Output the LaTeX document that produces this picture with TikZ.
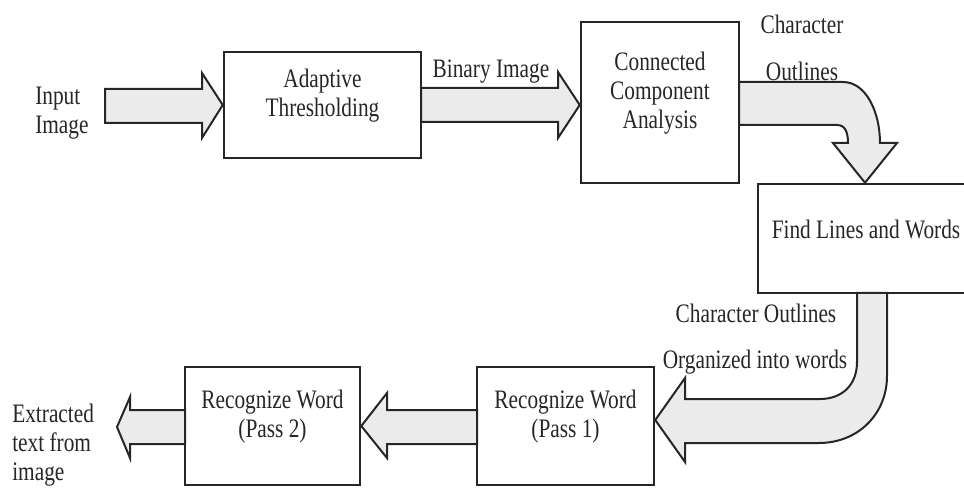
\documentclass[tikz,border=0pt]{standalone}
\usepackage{fontspec}
\setmainfont{Liberation Serif}[FakeStretch=0.8]
\usetikzlibrary{fit}

\begin{document}
\begin{tikzpicture}[x=0.75pt,y=-0.75pt,
  every node/.style={inner sep=0pt, font=\fontsize{20}{21.75}\selectfont, text=black!85, align=center},
  stage/.style={draw=black!85, line width=1.9pt},
  fatarrow/.style={draw=black!85, line width=1.5pt, fill=black!8, line join=miter}]
\useasboundingbox (0,0) rectangle (964,488);
\node [stage, fit={(224,52) (421,158)}] (thresh) {Adaptive\\Thresholding};
\node [stage, fit={(581,22) (739,183)}] (cca) {Connected\\Component\\Analysis};
\node [stage, fit={(758,184) (974,293)}] (find) {Find Lines and Words};
\node [stage, fit={(477,367) (654,485)}] (pass1) {Recognize Word\\(Pass 1)};
\node [stage, fit={(185,367) (360,485)}] (pass2) {Recognize Word\\(Pass 2)};
\node [anchor=west, align=left] (input) at (35,113) {Input\\Image};
\node [anchor=west, align=left] (output) at (12,445) {Extracted\\text from\\image};
\node (binary) at (491,72) {Binary Image};
\node (char) at (802,24) {Character};
\node (outl) at (802,71) {Outlines};
\node (charout) at (756,313) {Character Outlines};
\node (organ) at (755,362) {Organized into words};
\draw [fatarrow] (105,89) -- (202,89) -- (202,73) -- (thresh.west) -- (202,138) -- (202,123) -- (105,123) -- cycle;
\draw [fatarrow] (421,88) -- (558,88) -- (558,72) -- (cca.west |- 0,105) -- (558,138) -- (558,122) -- (421,122) -- cycle;
\draw [fatarrow] (739,82) -- (843,82) .. controls (866,82) and (880,112) .. (880,143) -- (897,143) -- (find.north -| 865,0) -- (833,143) -- (848,143) .. controls (848,132) and (845,125) .. (837,125) -- (739,125) -- cycle;
\draw [fatarrow] (857,293) -- (857,362) .. controls (857,385) and (842,399) .. (820,399) -- (685,399) -- (685,378) -- (pass1.east |- 0,420) -- (685,462) -- (685,443) -- (819,443) .. controls (858,443) and (887,414) .. (887,376) -- (887,293) -- cycle;
\draw [fatarrow] (477,410) -- (387,410) -- (387,393) -- (pass2.east) -- (387,458) -- (387,444) -- (477,444) -- cycle;
\draw [fatarrow] (185,410) -- (130,410) -- (130,397) -- (117,427) -- (130,458) -- (130,444) -- (185,444) -- cycle;
\end{tikzpicture}
\end{document}
